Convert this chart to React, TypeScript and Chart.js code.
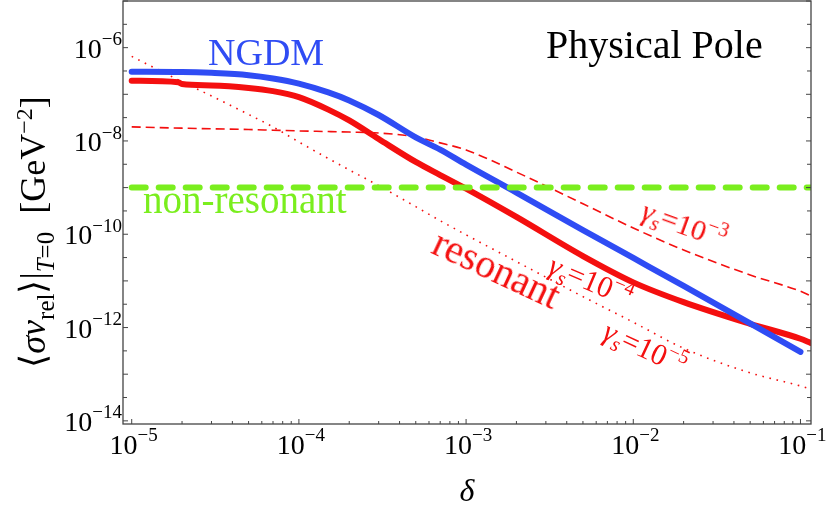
import React, { useEffect, useRef, useState } from 'react';
import Chart from 'chart.js/auto';

// δ values shared by all curves (null = no point for that series)
const deltas = [1e-5, 1.9e-5, 2e-5, 3e-5, 5e-5, 7e-5, 1e-4, 1.5e-4, 2e-4, 3e-4, 5e-4, 7e-4, 1e-3, 2e-3, 5e-3, 1e-2, 2e-2, 5e-2, 1e-1, 0.115];

const ngdm = [3.06e-7, null, 3.02e-7, 2.88e-7, 2.57e-7, 2.19e-7, 1.7e-7, 1.1e-7, 7.4e-8, 3.6e-8, 1.19e-8, 6.5e-9, 3.1e-9, 7.8e-10, 1.23e-10, 3.1e-11, 7.8e-12, 1.23e-12, 3.0e-13, null];
const resonant = [1.96e-7, 1.82e-7, 1.66e-7, 1.55e-7, 1.37e-7, 1.17e-7, 8.7e-8, 4.7e-8, 2.75e-8, 1.1e-8, 3.55e-9, 1.86e-9, 9.5e-10, 2.35e-10, 3.4e-11, 9.3e-12, 3.5e-12, 1.2e-12, 5.75e-13, 4.7e-13];
const gammaS3 = [2.0e-8, null, 1.88e-8, 1.82e-8, 1.76e-8, 1.7e-8, 1.64e-8, 1.59e-8, 1.55e-8, 1.48e-8, 1.22e-8, 9.1e-9, 6.4e-9, 2.15e-9, 4.5e-10, 1.36e-10, 4.6e-11, 1.34e-11, 6.0e-12, 4.8e-12];
const gammaS5 = [6.5e-7, null, 1.86e-7, 9.2e-8, 3.7e-8, 2.0e-8, 9.5e-9, 4.2e-9, 2.4e-9, 1.1e-9, 3.9e-10, 1.95e-10, 9.7e-11, 2.6e-11, 4.6e-12, 1.3e-12, 3.6e-13, 1.07e-13, 5.6e-14, 4.8e-14];
const nonResonantDeltas = [1e-5, 0.115];
const nonResonantLevel = 1e-9;

// axes
const xMin = 8.87e-6;
const xMax = 0.1156;
const yMin = 8.56e-15;
const yMax = 1e-5;
const xDecades = [-5, -4, -3, -2, -1];
const xMinorMult = [2, 3, 4, 5, 6, 7, 8, 9];
const yDecades = [-14, -13, -12, -11, -10, -9, -8, -7, -6, -5];
const yLabelled = [-14, -12, -10, -8, -6];

const SERIF = '"Liberation Serif", "Times New Roman", serif';
const BLUE = '#2f4cf4';
const RED = '#f40f0f';
const GREEN = '#7aee1e';

type Seg = { t: string; s: number; i?: boolean; dy?: number };

// text placed with its baseline at (x, y), rotated about that point
function RichLabel({ segs, x, y, angle = 0, color = '#000', align = 'center' }: { segs: Seg[]; x: number; y: number; angle?: number; color?: string; align?: 'left' | 'center' | 'right' }) {
  const S = Math.max(...segs.map((g) => g.s));
  const inner: React.CSSProperties = {
    position: 'absolute',
    top: -0.8375 * S,
    fontSize: S,
    lineHeight: `${S}px`,
    whiteSpace: 'pre',
    color,
    fontFamily: SERIF,
  };
  if (align === 'left') inner.left = 0;
  else if (align === 'right') inner.right = 0;
  else {
    inner.left = 0;
    inner.transform = 'translateX(-50%)';
  }
  return (
    <div style={{ position: 'absolute', left: x, top: y, width: 0, height: 0, transform: `rotate(${angle}deg)`, transformOrigin: '0 0', pointerEvents: 'none' }}>
      <span style={inner}>
        {segs.map((g, k) => (
          <span key={k} style={{ fontSize: g.s, lineHeight: 1, fontStyle: g.i ? 'italic' : 'normal', position: 'relative', top: g.dy || 0 }}>
            {g.t}
          </span>
        ))}
      </span>
    </div>
  );
}

const power = (d: number): Seg[] => [
  { t: '10', s: 28 },
  { t: '\u2212' + Math.abs(d), s: 19, dy: -12.5 },
];

const gamma = (exp: string): Seg[] => [
  { t: 'γ', s: 30, i: true },
  { t: 's', s: 21, i: true, dy: 6 },
  { t: '=10', s: 30 },
  { t: exp, s: 20, dy: -12 },
];

const yTitle: Seg[] = [
  { t: '⟨', s: 36 },
  { t: 'σv', s: 36, i: true },
  { t: 'rel', s: 25, dy: 9 },
  { t: '⟩', s: 36 },
  { t: '|', s: 36 },
  { t: 'T', s: 25, i: true, dy: 9 },
  { t: '=0', s: 25, dy: 9 },
  { t: '  [GeV', s: 36 },
  { t: '−2', s: 24, dy: -13 },
  { t: ']', s: 36 },
];

const framePlugin = {
  id: 'frame',
  afterDatasetsDraw(chart: any) {
    const { ctx, chartArea: a, scales } = chart;
    const xs = scales.x;
    const ys = scales.y;
    ctx.save();
    ctx.strokeStyle = '#444';
    ctx.lineWidth = 1.3;
    ctx.strokeRect(a.left, a.top, a.right - a.left, a.bottom - a.top);
    ctx.lineWidth = 1;
    ctx.beginPath();
    xDecades.forEach((d) => {
      const px = xs.getPixelForValue(Math.pow(10, d));
      ctx.moveTo(px, a.bottom);
      ctx.lineTo(px, a.bottom - 5);
      xMinorMult.forEach((m) => {
        const v = m * Math.pow(10, d);
        if (v > xMax) return;
        const p = xs.getPixelForValue(v);
        ctx.moveTo(p, a.bottom);
        ctx.lineTo(p, a.bottom - 3);
      });
    });
    yDecades.forEach((d) => {
      [0, 0.5].forEach((h) => {
        const v = Math.pow(10, d + h);
        if (v > yMax || v < yMin) return;
        const p = ys.getPixelForValue(v);
        const len = h === 0 ? 5 : 4;
        ctx.moveTo(a.left, p);
        ctx.lineTo(a.left + len, p);
        ctx.moveTo(a.right, p);
        ctx.lineTo(a.right - len, p);
      });
    });
    ctx.stroke();
    ctx.restore();
  },
};

const toPoints = (ys: (number | null)[]) => deltas.map((x, k) => ({ x, y: ys[k] }));

type TickPos = { xs: { d: number; px: number }[]; ys: { d: number; py: number }[]; left: number; mid: number };

export default function App() {
  const canvasRef = useRef<HTMLCanvasElement>(null);
  const chartRef = useRef<Chart | null>(null);
  const [tickPos, setTickPos] = useState<TickPos | null>(null);

  useEffect(() => {
    if (!canvasRef.current) return;
    if (chartRef.current) chartRef.current.destroy();
    const common = { pointRadius: 0, spanGaps: true, cubicInterpolationMode: 'monotone' as const, fill: false };
    const chart = new Chart(canvasRef.current, {
      type: 'line',
      data: {
        datasets: [
          {
            label: 'non-resonant',
            data: nonResonantDeltas.map((x) => ({ x, y: nonResonantLevel })),
            borderColor: GREEN,
            borderWidth: 6,
            borderDash: [14, 13],
            borderCapStyle: 'round',
            ...common,
          },
          { label: 'NGDM', data: toPoints(ngdm), borderColor: BLUE, borderWidth: 6, borderCapStyle: 'round', ...common },
          { label: 'resonant', data: toPoints(resonant), borderColor: RED, borderWidth: 6, borderCapStyle: 'round', ...common },
          { label: 'γs=1e-3', data: toPoints(gammaS3), borderColor: RED, borderWidth: 1.6, borderDash: [9, 5], ...common },
          { label: 'γs=1e-5', data: toPoints(gammaS5), borderColor: RED, borderWidth: 1.6, borderDash: [1.6, 5.7], ...common },
        ],
      },
      options: {
        animation: false,
        responsive: false,
        layout: { padding: { top: 1, right: 18, left: 0, bottom: 0 } },
        plugins: { legend: { display: false }, tooltip: { enabled: false } },
        scales: {
          x: {
            type: 'logarithmic',
            min: xMin,
            max: xMax,
            ticks: { display: false },
            grid: { display: false },
            border: { display: false },
            afterFit: (s: any) => {
              s.height = 82;
            },
          },
          y: {
            type: 'logarithmic',
            min: yMin,
            max: yMax,
            ticks: { display: false },
            grid: { display: false },
            border: { display: false },
            afterFit: (s: any) => {
              s.width = 123;
            },
          },
        },
      },
      plugins: [framePlugin],
    });
    chartRef.current = chart;
    const xs: any = chart.scales.x;
    const ys: any = chart.scales.y;
    const a = chart.chartArea;
    setTickPos({
      xs: xDecades.map((d) => ({ d, px: xs.getPixelForValue(Math.pow(10, d)) })),
      ys: yLabelled.map((d) => ({ d, py: ys.getPixelForValue(Math.pow(10, d)) })),
      left: a.left,
      mid: (a.left + a.right) / 2,
    });
    return () => {
      chart.destroy();
      chartRef.current = null;
    };
  }, []);

  return (
    <div style={{ position: 'fixed', left: 0, top: 0, width: 829, height: 506, background: '#fff', overflow: 'hidden' }}>
      <canvas ref={canvasRef} width={829} height={506} style={{ width: 829, height: 506, display: 'block' }} />
      {tickPos && (
        <>
          {tickPos.xs.map((t) => (
            <RichLabel key={'x' + t.d} segs={power(t.d)} x={t.px + 2} y={454} />
          ))}
          {tickPos.ys.map((t) => (
            <RichLabel key={'y' + t.d} segs={power(t.d)} x={tickPos.left - 1} y={t.py + 10.5} align="right" />
          ))}
          <RichLabel segs={[{ t: 'δ', s: 32, i: true }]} x={tickPos.mid} y={501} />
        </>
      )}
      <RichLabel segs={yTitle} x={45} y={232} angle={-90} />
      <RichLabel segs={[{ t: 'NGDM', s: 38 }]} x={208} y={65} color={BLUE} align="left" />
      <RichLabel segs={[{ t: 'Physical Pole', s: 40 }]} x={546} y={58} align="left" />
      <RichLabel segs={[{ t: 'non-resonant', s: 39 }]} x={143} y={213} color={GREEN} align="left" />
      <RichLabel segs={[{ t: 'resonant', s: 40 }]} x={491} y={281} angle={25} color={RED} />
      <RichLabel segs={gamma('−3')} x={681} y={234} angle={20} color={RED} />
      <RichLabel segs={gamma('−4')} x={587} y={290} angle={23} color={RED} />
      <RichLabel segs={gamma('−5')} x={641} y={357} angle={25} color={RED} />
    </div>
  );
}
